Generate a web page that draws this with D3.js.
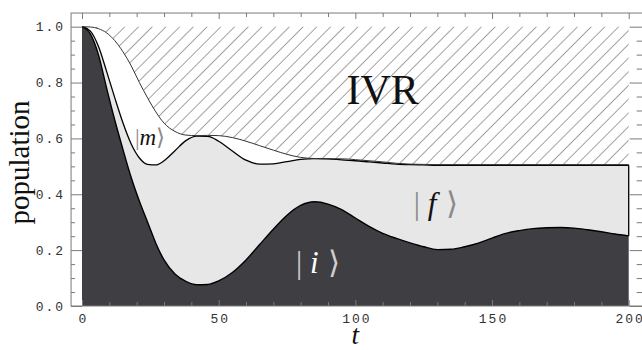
<!DOCTYPE html>
<html>
<head>
<meta charset="utf-8">
<script src="https://cdn.jsdelivr.net/npm/d3@7"></script>
<style>
  body { margin: 0; background: #fff; }
  svg { display: block; }
</style>
</head>
<body>
<svg id="chart" width="642" height="350"></svg>
<script>
// time samples and the three populations
const tVals = [0, 3, 6, 9, 12, 15, 18, 21, 24, 27, 30, 34, 38, 42, 46, 50, 55, 60, 65, 70, 75, 80, 85, 90, 95,
  100, 105, 110, 115, 120, 125, 130, 135, 140, 145, 150, 155, 160, 165, 170, 175, 180, 185, 190, 195, 200]
const popI = [1.0, 0.975, 0.90, 0.78, 0.665, 0.56, 0.46, 0.375, 0.30, 0.225, 0.165, 0.115, 0.088, 0.076, 0.077, 0.09, 0.12, 0.165, 0.22, 0.275, 0.325, 0.36, 0.373, 0.365, 0.345,
  0.315, 0.285, 0.26, 0.242, 0.226, 0.212, 0.202, 0.203, 0.212, 0.225, 0.243, 0.26, 0.27, 0.277, 0.28, 0.281, 0.279, 0.273, 0.266, 0.258, 0.251]
const popF = [0, 0.010, 0.030, 0.060, 0.080, 0.095, 0.120, 0.155, 0.207, 0.280, 0.355, 0.441, 0.504, 0.532, 0.530, 0.500, 0.435, 0.357, 0.288, 0.234, 0.192, 0.165, 0.155, 0.162, 0.178,
  0.205, 0.231, 0.252, 0.266, 0.280, 0.293, 0.302, 0.301, 0.292, 0.279, 0.261, 0.244, 0.234, 0.227, 0.224, 0.223, 0.225, 0.231, 0.238, 0.246, 0.253]
const popM = [0, 0.014, 0.063, 0.138, 0.205, 0.255, 0.280, 0.270, 0.238, 0.190, 0.135, 0.069, 0.020, 0.002, 0.004, 0.020, 0.048, 0.068, 0.066, 0.049, 0.026, 0.007, 0.000, 0.000, 0.004,
  0.004, 0.004, 0.004, 0.003, 0.002, 0.002, 0.002, 0.002, 0.002, 0.002, 0.002, 0.002, 0.002, 0.002, 0.002, 0.002, 0.002, 0.002, 0.002, 0.002, 0.002]

const xTicksMajor = [0, 50, 100, 150, 200]
const yTicksMajor = [0, 0.2, 0.4, 0.6, 0.8, 1.0]

const svg = d3.select('#chart')

const x = d3.scaleLinear().domain([0, 200]).range([82, 628.7])
const y = d3.scaleLinear().domain([0, 1]).range([306, 26.7])

// right edge of the frame falls just past the picture
const frame = { left: x(-4), right: x(205.1), top: y(1.049), bottom: y(0) }
const frameColor = '#7a7a7a'

const rows = tVals.map((t, k) => ({ t: t, i: popI[k], f: popF[k], m: popM[k] }))
const stack = d3.stack().keys(['i', 'f', 'm'])(rows)
const curve = d3.curveMonotoneX

// hatch pattern for the IVR part
const defs = svg.append('defs')
defs.append('pattern')
    .attr('id', 'hatch')
    .attr('patternUnits', 'userSpaceOnUse')
    .attr('width', 9.7)
    .attr('height', 9.7)
    .attr('patternTransform', 'rotate(45)')
  .append('line')
    .attr('x1', 0).attr('y1', 0)
    .attr('x2', 0).attr('y2', 9.7)
    .attr('stroke', '#444')
    .attr('stroke-width', 1)

// IVR: from the top of the stack up to 1
const topLayer = stack[2]
svg.append('path')
    .datum(topLayer)
    .attr('fill', 'url(#hatch)')
    .attr('d', d3.area()
        .x(d => x(d.data.t))
        .y0(d => y(d[1]))
        .y1(() => y(1))
        .curve(curve))

const fills = ['#3f3e43', '#e7e7e7', '#ffffff']
svg.append('g')
  .selectAll('path')
  .data(stack)
  .join('path')
    .attr('fill', (d, k) => fills[k])
    .attr('d', d3.area()
        .x(d => x(d.data.t))
        .y0(d => y(d[0]))
        .y1(d => y(d[1]))
        .curve(curve))

// boundary lines
const strokes = [
  { color: '#000', width: 1.4 },
  { color: '#000', width: 1.3 },
  { color: '#333', width: 1 }
]
svg.append('g')
  .selectAll('path')
  .data(stack)
  .join('path')
    .attr('fill', 'none')
    .attr('stroke', (d, k) => strokes[k].color)
    .attr('stroke-width', (d, k) => strokes[k].width)
    .attr('d', d3.line()
        .x(d => x(d.data.t))
        .y(d => y(d[1]))
        .curve(curve))

// right edge of the |f> band
const last = rows[rows.length - 1]
svg.append('line')
    .attr('x1', x(last.t)).attr('x2', x(last.t))
    .attr('y1', y(last.i + last.f)).attr('y2', y(last.i))
    .attr('stroke', '#000')
    .attr('stroke-width', 1.3)

// frame
svg.append('rect')
    .attr('x', frame.left)
    .attr('y', frame.top)
    .attr('width', frame.right - frame.left)
    .attr('height', frame.bottom - frame.top)
    .attr('fill', 'none')
    .attr('stroke', frameColor)
    .attr('stroke-width', 1)

const xMinor = d3.range(0, 201, 10).filter(v => v % 50 !== 0)
const yMinor = d3.range(0, 21).map(k => k * 0.05).filter((v, k) => k % 4 !== 0)

function styleAxis(g) {
  g.select('.domain').remove()
  g.selectAll('.tick line').attr('stroke', frameColor)
  g.selectAll('.tick text')
      .attr('fill', '#333')
      .style('font-family', '"Liberation Mono", "DejaVu Sans Mono", monospace')
      .style('font-size', '13px')
      .style('letter-spacing', '2px')
}

// bottom
svg.append('g').attr('transform', `translate(0,${frame.bottom})`)
    .call(d3.axisBottom(x).tickValues(xTicksMajor).tickSize(-6).tickPadding(8).tickFormat(d3.format('d')))
    .call(styleAxis)
    .selectAll('.tick text').attr('dx', '1px')
svg.append('g').attr('transform', `translate(0,${frame.bottom})`)
    .call(d3.axisBottom(x).tickValues(xMinor).tickSize(-4).tickFormat(''))
    .call(styleAxis)
// top
svg.append('g').attr('transform', `translate(0,${frame.top})`)
    .call(d3.axisTop(x).tickValues(xTicksMajor).tickSize(-6).tickFormat(''))
    .call(styleAxis)
svg.append('g').attr('transform', `translate(0,${frame.top})`)
    .call(d3.axisTop(x).tickValues(xMinor).tickSize(-4).tickFormat(''))
    .call(styleAxis)
// left
svg.append('g').attr('transform', `translate(${frame.left},0)`)
    .call(d3.axisLeft(y).tickValues(yTicksMajor).tickSize(-11).tickPadding(6).tickFormat(d3.format('.1f')))
    .call(styleAxis)
svg.append('g').attr('transform', `translate(${frame.left},0)`)
    .call(d3.axisLeft(y).tickValues(yMinor).tickSize(-4).tickFormat(''))
    .call(styleAxis)
// right
svg.append('g').attr('transform', `translate(${frame.right},0)`)
    .call(d3.axisRight(y).tickValues(yTicksMajor).tickSize(-13).tickFormat(''))
    .call(styleAxis)
svg.append('g').attr('transform', `translate(${frame.right},0)`)
    .call(d3.axisRight(y).tickValues(yMinor).tickSize(-6).tickFormat(''))
    .call(styleAxis)

// axis titles
const serif = '"Liberation Serif", "DejaVu Serif", serif'
svg.append('text')
    .attr('transform', `translate(28.5,${(frame.top + frame.bottom) / 2 + 3}) rotate(-90)`)
    .attr('text-anchor', 'middle')
    .style('font-family', serif)
    .style('font-size', '29px')
    .attr('fill', '#111')
    .text('population')

svg.append('text')
    .attr('x', x(100))
    .attr('y', 344)
    .attr('text-anchor', 'middle')
    .style('font-family', serif)
    .style('font-style', 'italic')
    .style('font-size', '27px')
    .attr('fill', '#111')
    .text('t')

// region labels
svg.append('text')
    .attr('x', x(110))
    .attr('y', y(0.725))
    .attr('text-anchor', 'middle')
    .style('font-family', serif)
    .style('font-size', '42px')
    .attr('fill', '#111')
    .text('IVR')

function ket(t, v, name, size, barColor, nameColor, gap) {
  const txt = svg.append('text')
      .attr('x', x(t))
      .attr('y', y(v))
      .attr('text-anchor', 'middle')
      .style('font-family', serif)
      .style('font-size', size + 'px')
  txt.append('tspan').attr('fill', barColor).text('|' + gap)
  txt.append('tspan').attr('fill', nameColor).style('font-style', 'italic').text(name)
  txt.append('tspan').attr('fill', barColor).style('font-family', '"DejaVu Sans", sans-serif').style('font-weight', '100').text(gap + '\u27E9')
}
ket(24.9, 0.575, 'm', 23, '#8a8a8a', '#111', '')
ket(86.4, 0.118, 'i', 31, '#cfcfcf', '#ffffff', ' ')
ket(129.5, 0.33, 'f', 31, '#8a8a8a', '#111', ' ')
</script>
</body>
</html>
